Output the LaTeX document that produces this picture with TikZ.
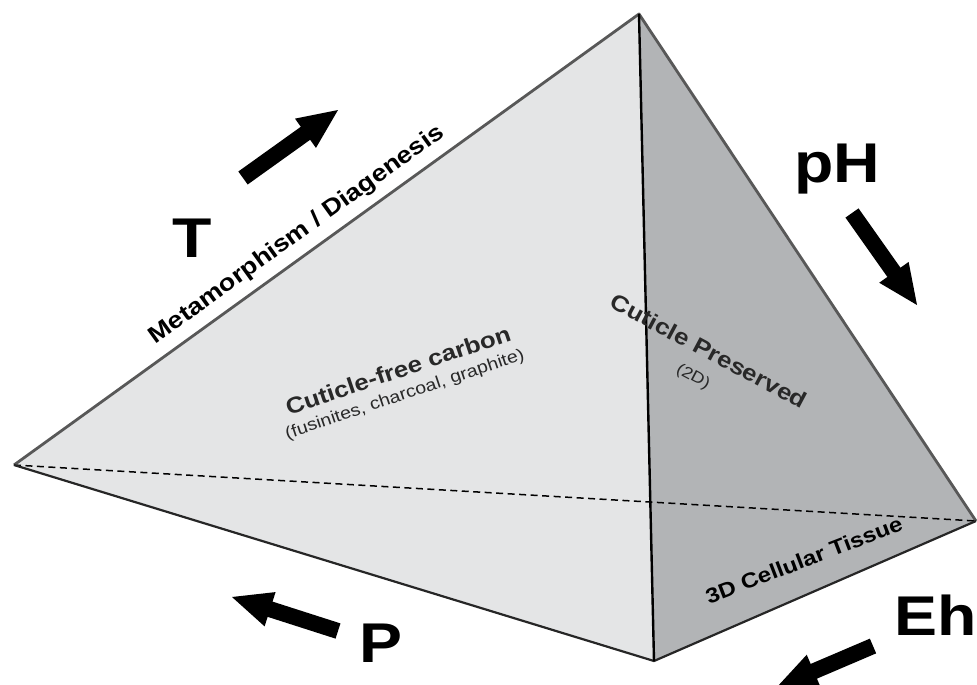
\documentclass[tikz,border=0pt]{standalone}
\usepackage{fontspec}
\setmainfont{Liberation Sans}
\newfontfamily\widefont[FakeStretch=1.15]{Liberation Sans}
\usetikzlibrary{calc}
\definecolor{faceL}{RGB}{228,229,230}
\definecolor{faceR}{RGB}{178,180,182}
\definecolor{edgeG}{RGB}{88,88,88}
\definecolor{txtD}{RGB}{40,40,40}
\newcommand\fatarr[3]{%
  \coordinate (#3) at ($(#2)!40pt!(#1)$);
  \fill[black] ($(#1)!8pt!90:(#2)$) -- ($(#3)!8pt!90:(#2)$) -- ($(#3)!18pt!90:(#2)$) -- (#2)
    -- ($(#3)!18pt!-90:(#2)$) -- ($(#3)!8pt!-90:(#2)$) -- ($(#1)!8pt!-90:(#2)$) -- cycle;}
\begin{document}
\begin{tikzpicture}[x=1pt,y=-1pt,
  lbl/.style={inner sep=0pt},
  bigl/.style={inner sep=0pt, anchor=base, font=\widefont\bfseries\fontsize{56}{60}\selectfont},
  upperedge/.style={draw=edgeG, line width=2.8pt, line join=round},
  loweredge/.style={draw=black!85, line width=2.2pt, line join=round},
  midedge/.style={draw=black, line width=2.4pt},
  hidden/.style={draw=black, line width=1.5pt, dash pattern=on 7pt off 4.5pt}]
\useasboundingbox (0,0) rectangle (977,685);
\clip (0,0) rectangle (977,685);
\coordinate (apex) at (639,14);
\coordinate (lv) at (14,465);
\coordinate (bv) at (654,661);
\coordinate (rv) at (976,521);
% faces
\fill[faceL] (apex) -- (lv) -- (bv) -- cycle;
\fill[faceR] (apex) -- (bv) -- (rv) -- cycle;
% hidden edge
\draw[hidden] (lv) -- (rv);
% edges
\draw[upperedge] (lv) -- (apex) -- (rv);
\draw[loweredge] (lv) -- (bv) -- (rv);
\draw[midedge] (apex) -- (bv);
% labels on faces
\node[lbl, rotate=35.8, font=\widefont\bfseries\fontsize{23.5}{26}\selectfont] (meta) at (297,235) {Metamorphism / Diagenesis};
\node[lbl, rotate=18.6, text=txtD, font=\widefont\bfseries\fontsize{22.5}{24}\selectfont] (cfc) at (398,370) {Cuticle-free carbon};
\node[lbl, rotate=18.6, text=txtD, font=\widefont\fontsize{17}{19}\selectfont] (fus) at (405,395) {(fusinites, charcoal, graphite)};
\node[lbl, rotate=-28, text=txtD, font=\widefont\bfseries\fontsize{22.5}{24}\selectfont] (cp) at (709,351) {Cuticle Preserved};
\node[lbl, rotate=-28, text=txtD, font=\widefont\fontsize{16}{18}\selectfont] (twoD) at (693,377) {(2D)};
\node[lbl, rotate=21, font=\widefont\bfseries\fontsize{21}{23}\selectfont] (cell) at (804,560) {3D Cellular Tissue};
% big letters
\node[bigl] (T) at (192,257) {T};
\node[bigl] (pH) at (837,182) {pH};
\node[bigl] (P) at (381,662) {P};
\node[bigl] (Eh) at (936,635) {Eh};
% arrows
\coordinate (Ttail) at (243,178);  \coordinate (Ttip) at (338,110);
\coordinate (pHtail) at (852,213); \coordinate (pHtip) at (917,305);
\coordinate (Ptail) at (338,631);  \coordinate (Ptip) at (232,597);
\coordinate (Ehtail) at (873,646); \coordinate (Ehtip) at (777,687);
\fatarr{Ttail}{Ttip}{Tbase}
\fatarr{pHtail}{pHtip}{pHbase}
\fatarr{Ptail}{Ptip}{Pbase}
\fatarr{Ehtail}{Ehtip}{Ehbase}
\end{tikzpicture}
\end{document}
